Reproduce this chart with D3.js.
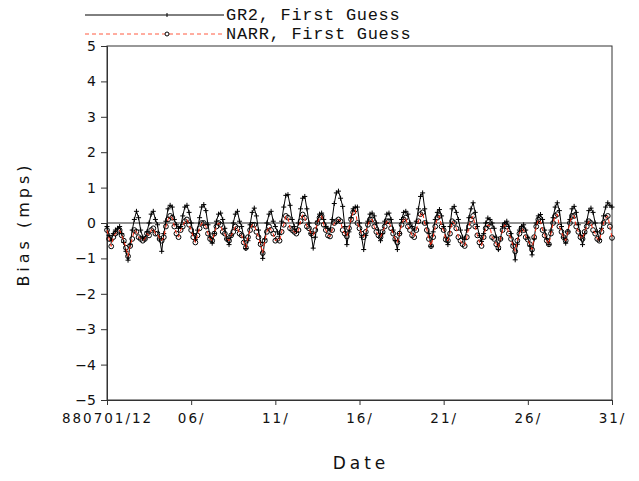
<!DOCTYPE html>
<html>
<head>
<meta charset="utf-8">
<script src="https://cdn.jsdelivr.net/npm/d3@7"></script>
<style>
  body { margin: 0; background: #fff; }
  svg { display: block; }
  .tick text { font-family: "DejaVu Sans", sans-serif; }
</style>
</head>
<body>
<svg id="chart" width="639" height="481"></svg>
<script>
// 3-hourly bias, starting 880701/12, one row = one day (12Z ... 09Z)
var gr2 = [
  -0.10, -0.35, -0.50, -0.30, -0.20, -0.15, -0.10, -0.30,
  -0.55, -0.80, -1.05, -0.60, -0.20,  0.10,  0.33,  0.15,
  -0.20, -0.40, -0.45, -0.25,  0.00,  0.25,  0.33,  0.10,
  -0.05, -0.45, -0.80, -0.30,  0.05,  0.40,  0.50,  0.45,
   0.10, -0.05, -0.15, -0.10,  0.20,  0.45,  0.50,  0.30,
   0.00, -0.30, -0.47, -0.20,  0.15,  0.45,  0.52,  0.35,
  -0.05, -0.40, -0.57, -0.30,  0.05,  0.25,  0.28,  0.10,
  -0.15, -0.45, -0.61, -0.35,  0.00,  0.25,  0.33,  0.05,
  -0.10, -0.40, -0.72, -0.50, -0.05,  0.30,  0.42,  0.20,
  -0.20, -0.55, -1.00, -0.45,  0.00,  0.25,  0.33,  0.05,
  -0.10, -0.25, -0.33,  0.05,  0.45,  0.78,  0.80,  0.50,
   0.10, -0.10, -0.24,  0.00,  0.40,  0.70,  0.75,  0.40,
   0.00, -0.30, -0.71, -0.40,  0.05,  0.25,  0.28,  0.10,
  -0.10, -0.15, -0.20,  0.10,  0.55,  0.85,  0.90,  0.70,
   0.47, -0.10, -0.61, -0.25,  0.15,  0.40,  0.45,  0.45,
   0.00, -0.40, -0.75, -0.35,  0.05,  0.25,  0.28,  0.20,
   0.00, -0.20, -0.50, -0.30,  0.05,  0.25,  0.28,  0.10,
  -0.20, -0.50, -0.75, -0.30,  0.10,  0.30,  0.33,  0.25,
   0.00, -0.10, -0.20,  0.05,  0.40,  0.75,  0.85,  0.40,
   0.00, -0.30, -0.66, -0.25,  0.10,  0.30,  0.38,  0.20,
  -0.10, -0.40, -0.61, -0.10,  0.40,  0.47,  0.30,  0.10,
  -0.20, -0.40, -0.47, -0.20,  0.15,  0.40,  0.57,  0.30,
  -0.10, -0.35, -0.52, -0.30,  0.00,  0.14,  0.10,  0.00,
  -0.15, -0.40, -0.75, -0.45, -0.10,  0.00,  0.05, -0.10,
  -0.30, -0.60, -1.04, -0.60, -0.20, -0.10, -0.05, -0.20,
  -0.40, -0.65, -0.90, -0.45,  0.00,  0.20,  0.24,  0.10,
  -0.20, -0.45, -0.61, -0.20,  0.15,  0.45,  0.57,  0.35,
  -0.10, -0.40, -0.57, -0.25,  0.10,  0.40,  0.47,  0.30,
  -0.05, -0.35, -0.61, -0.30,  0.05,  0.35,  0.42,  0.30,
   0.00, -0.25, -0.47, -0.15,  0.20,  0.45,  0.57,  0.50,
   0.45
];
var narr = [
  -0.20, -0.45, -0.66, -0.40, -0.30, -0.25, -0.20, -0.35,
  -0.50, -0.70, -0.94, -0.65, -0.45, -0.20, -0.25, -0.40,
  -0.45, -0.50, -0.45, -0.30, -0.35, -0.20, -0.15, -0.30,
  -0.30, -0.45, -0.50, -0.40, -0.10,  0.10,  0.20,  0.15,
  -0.10, -0.30, -0.40, -0.20, -0.10,  0.05,  0.10, -0.05,
  -0.20, -0.40, -0.55, -0.35, -0.15,  0.00,  0.00, -0.10,
  -0.30, -0.45, -0.50, -0.30, -0.10,  0.00, -0.05, -0.25,
  -0.30, -0.45, -0.50, -0.35, -0.25, -0.10, -0.15, -0.30,
  -0.35, -0.55, -0.70, -0.40, -0.20, -0.05, -0.05, -0.25,
  -0.40, -0.60, -0.85, -0.50, -0.25, -0.10, -0.20, -0.30,
  -0.50, -0.45, -0.50, -0.25, -0.05,  0.20,  0.15, -0.15,
  -0.20, -0.25, -0.30, -0.20,  0.05,  0.24,  0.15, -0.10,
  -0.15, -0.30, -0.35, -0.20,  0.00,  0.15,  0.20, -0.05,
  -0.20, -0.35, -0.38, -0.20,  0.00,  0.05,  0.10,  0.05,
  -0.20, -0.30, -0.38, -0.15,  0.10,  0.30,  0.38,  0.00,
  -0.15, -0.30, -0.40, -0.25, -0.05,  0.10,  0.10, -0.10,
  -0.25, -0.35, -0.40, -0.25, -0.10,  0.05,  0.05, -0.15,
  -0.30, -0.45, -0.55, -0.30, -0.05,  0.10,  0.15, -0.10,
  -0.20, -0.35, -0.40, -0.20,  0.05,  0.25,  0.30,  0.00,
  -0.20, -0.45, -0.65, -0.40, -0.10,  0.15,  0.20, -0.10,
  -0.20, -0.47, -0.50, -0.30,  0.05,  0.00, -0.15, -0.40,
  -0.50, -0.60, -0.65, -0.40, -0.10,  0.10,  0.20, -0.10,
  -0.35, -0.55, -0.65, -0.40, -0.15, -0.05, -0.10, -0.40,
  -0.45, -0.60, -0.70, -0.45, -0.20, -0.05, -0.10, -0.30,
  -0.45, -0.65, -0.80, -0.50, -0.30, -0.15, -0.20, -0.40,
  -0.47, -0.60, -0.75, -0.40, -0.10,  0.10,  0.05, -0.20,
  -0.35, -0.50, -0.60, -0.30,  0.00,  0.20,  0.25, -0.10,
  -0.25, -0.40, -0.50, -0.25,  0.00,  0.20,  0.20, -0.10,
  -0.25, -0.40, -0.45, -0.25, -0.10,  0.05,  0.00, -0.20,
  -0.30, -0.45, -0.50, -0.25,  0.00,  0.15,  0.20, -0.10,
  -0.42
];
var xTicks = [0, 5, 10, 15, 20, 25, 30];
var xTickLabels = ["880701/12", "06/", "11/", "16/", "21/", "26/", "31/"];
var yTicks = [-5, -4, -3, -2, -1, 0, 1, 2, 3, 4, 5];
var seriesNames = ["GR2, First Guess", "NARR, First Guess"];

var svg = d3.select("#chart");
var plotL = 107, plotR = 612, plotT = 46, plotB = 400;

// days since 880701/12, 3 hourly
var x = d3.scaleLinear().domain([0, 30]).range([plotL, plotR]);
var y = d3.scaleLinear().domain([-5, 5]).range([plotB, plotT]);
var step = 0.125;

// frame
svg.append("rect")
  .attr("x", plotL).attr("y", plotT)
  .attr("width", plotR - plotL).attr("height", plotB - plotT)
  .attr("fill", "none").attr("stroke", "#333").attr("stroke-width", 1);

// zero line
svg.append("line")
  .attr("x1", plotL).attr("x2", plotR)
  .attr("y1", y(0)).attr("y2", y(0))
  .attr("stroke", "#222").attr("stroke-width", 1);

var xAxis = d3.axisBottom(x).tickValues(xTicks).tickSize(5)
  .tickFormat(function(d, i) { return xTickLabels[i]; });
var gx = svg.append("g").attr("transform", "translate(0," + plotB + ")").call(xAxis);
gx.select(".domain").attr("stroke", "#333");
gx.selectAll(".tick line").attr("stroke", "#333");
gx.selectAll(".tick text").attr("font-size", 13.5).attr("letter-spacing", 2)
  .attr("fill", "#111").attr("dy", "1.1em");

var yAxis = d3.axisLeft(y).tickValues(yTicks).tickSize(6);
var gy = svg.append("g").attr("transform", "translate(" + plotL + ",0)").call(yAxis);
gy.select(".domain").attr("stroke", "#333");
gy.selectAll(".tick line").attr("stroke", "#333");
gy.selectAll(".tick text").attr("font-size", 14).attr("fill", "#111").attr("x", -11);

var line = d3.line()
  .x(function(d, i) { return x(i * step); })
  .y(function(d) { return y(d); });

// GR2
svg.append("path").datum(gr2)
  .attr("d", line).attr("fill", "none")
  .attr("stroke", "#000").attr("stroke-width", 1);
svg.append("g").selectAll("path").data(gr2).enter().append("path")
  .attr("d", function(d, i) {
    var cx = x(i * step), cy = y(d);
    return "M" + (cx - 2.5) + "," + cy + "H" + (cx + 2.5) + "M" + cx + "," + (cy - 2.5) + "V" + (cy + 2.5);
  })
  .attr("stroke", "#000").attr("stroke-width", 1);

// NARR
svg.append("g").selectAll("circle").data(narr).enter().append("circle")
  .attr("cx", function(d, i) { return x(i * step); })
  .attr("cy", function(d) { return y(d); })
  .attr("r", 2.4)
  .attr("fill", "none").attr("stroke", "#000").attr("stroke-width", 1);
svg.append("path").datum(narr)
  .attr("d", line).attr("fill", "none")
  .attr("stroke", "#ff2a10").attr("stroke-width", 1)
  .attr("stroke-dasharray", "4,3");

// legend
svg.append("line").attr("x1", 85).attr("x2", 224).attr("y1", 15).attr("y2", 15)
  .attr("stroke", "#000").attr("stroke-width", 1);
svg.append("line").attr("x1", 167).attr("x2", 167).attr("y1", 13).attr("y2", 17)
  .attr("stroke", "#000");
svg.append("line").attr("x1", 85).attr("x2", 224).attr("y1", 34).attr("y2", 34)
  .attr("stroke", "#ff5a40").attr("stroke-width", 1).attr("stroke-dasharray", "4,3");
svg.append("circle").attr("cx", 167).attr("cy", 34).attr("r", 2)
  .attr("fill", "#fff").attr("stroke", "#000");
svg.selectAll(".legtext").data(seriesNames).enter().append("text")
  .attr("class", "legtext")
  .attr("x", 226).attr("y", function(d, i) { return 20 + i * 19; })
  .attr("font-family", "Liberation Mono, monospace")
  .attr("font-size", 17).attr("letter-spacing", 0.7)
  .attr("fill", "#111")
  .text(function(d) { return d; });

// axis titles
svg.append("text").attr("x", 361).attr("y", 469).attr("text-anchor", "middle")
  .attr("font-family", "DejaVu Sans, sans-serif").attr("font-size", 17)
  .attr("letter-spacing", 4).attr("fill", "#111").text("Date");
svg.append("text").attr("transform", "translate(29,224) rotate(-90)")
  .attr("text-anchor", "middle")
  .attr("font-family", "DejaVu Sans, sans-serif").attr("font-size", 16)
  .attr("letter-spacing", 4).attr("fill", "#111").text("Bias (mps)");
</script>
</body>
</html>
